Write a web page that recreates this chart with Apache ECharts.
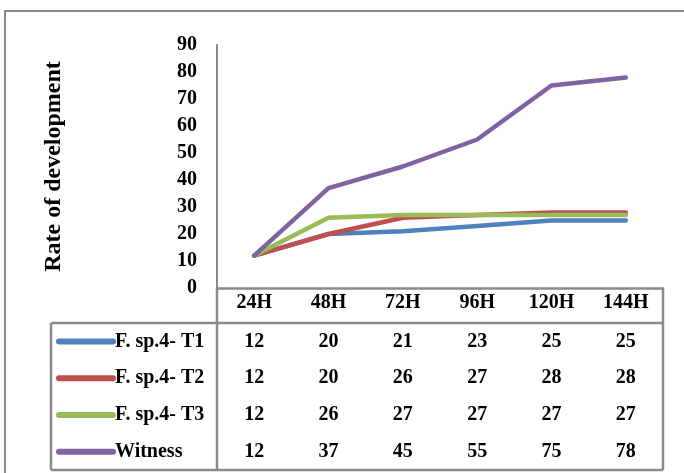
<!DOCTYPE html>
<html>
<head>
<meta charset="utf-8">
<script src="https://cdn.jsdelivr.net/npm/echarts@6/dist/echarts.min.js"></script>
<style>
  html, body { margin: 0; padding: 0; background: #fff; }
  #chart { width: 684px; height: 473px; }
</style>
</head>
<body>
<div id="chart"></div>
<script>
// Sampling times (category axis / table header)
const hours = ['24H', '48H', '72H', '96H', '120H', '144H'];
// Series names shown in the table legend column
const seriesNames = ['F. sp.4- T1', 'F. sp.4- T2', 'F. sp.4- T3', 'Witness'];
// Rate of development per treatment
const t1Values = [12, 20, 21, 23, 25, 25];
const t2Values = [12, 20, 26, 27, 28, 28];
const t3Values = [12, 26, 27, 27, 27, 27];
const witnessValues = [12, 37, 45, 55, 75, 78];
// Value axis ticks
const yMin = 0, yMax = 90, yStep = 10;

const seriesValues = [t1Values, t2Values, t3Values, witnessValues];
const colors = ['#4F81BD', '#C0504D', '#9BBB59', '#8064A2'];

const FONT = '"Liberation Serif", "Times New Roman", serif';
const GRAY = '#8a8a8a';
const TXT = 20;

// Layout of the plot and the data table underneath
const G = { left: 217, right: 663, top: 45, bottom: 288 };
const tableLeft = 51;
const headerBottom = 323;
const tableBottom = 470;
const rowH = (tableBottom - headerBottom) / seriesNames.length;

const chart = echarts.init(document.getElementById('chart'), null, { renderer: 'canvas' });

const option = {
  backgroundColor: '#fff',
  animation: false,
  textStyle: { fontFamily: FONT },
  grid: { left: G.left, right: 684 - G.right, top: G.top, bottom: 473 - G.bottom, containLabel: false },
  xAxis: {
    type: 'category',
    data: hours,
    boundaryGap: true,
    axisLine: { show: true, lineStyle: { color: GRAY, width: 2.5 } },
    axisTick: { show: false },
    axisLabel: { color: '#000', fontFamily: FONT, fontWeight: 'bold', fontSize: TXT, margin: 5 },
    splitLine: { show: false }
  },
  yAxis: {
    type: 'value',
    min: yMin, max: yMax, interval: yStep,
    name: 'Rate of development',
    nameLocation: 'middle',
    nameRotate: 90,
    nameGap: 151,
    nameTextStyle: { color: '#000', fontFamily: FONT, fontWeight: 'bold', fontSize: 24 },
    axisLine: { show: true, lineStyle: { color: GRAY, width: 2 } },
    axisTick: { show: false },
    axisLabel: { color: '#000', fontFamily: FONT, fontWeight: 'bold', fontSize: TXT, margin: 20 },
    splitLine: { show: false }
  },
  series: seriesNames.map((name, i) => ({
    name,
    type: 'line',
    data: seriesValues[i],
    symbol: 'none',
    smooth: false,
    lineStyle: { color: colors[i], width: 4.5, cap: 'round', join: 'round' },
    itemStyle: { color: colors[i] },
    z: 2 + i
  }))
};

chart.setOption(option);

// Data table below the plot: borders, legend swatches, names and values
function buildTable() {
  const g = [];
  const line = (x1, y1, x2, y2) => ({
    type: 'line', silent: true,
    shape: { x1, y1, x2, y2 },
    style: { stroke: GRAY, lineWidth: 2.5 }
  });
  // outer chart frame
  g.push({ type: 'rect', silent: true, shape: { x: 5, y: 11, width: 720, height: 520 },
           style: { fill: null, stroke: GRAY, lineWidth: 2 } });
  g.push(line(tableLeft, headerBottom, G.right, headerBottom));
  g.push(line(tableLeft, headerBottom, tableLeft, tableBottom));
  g.push(line(tableLeft, tableBottom, G.right, tableBottom));
  g.push(line(G.right, G.bottom, G.right, tableBottom));
  g.push(line(G.left, G.bottom, G.left, tableBottom));

  seriesNames.forEach((name, r) => {
    const cy = headerBottom + rowH * (r + 0.5);
    g.push({ type: 'line', silent: true,
             shape: { x1: 59, y1: cy, x2: 113, y2: cy },
             style: { stroke: colors[r], lineWidth: 6, lineCap: 'round' } });
    g.push({ type: 'text', silent: true, x: 115, y: cy,
             style: { text: name, fill: '#000', font: 'bold ' + TXT + 'px ' + FONT,
                      textAlign: 'left', textVerticalAlign: 'middle' } });
    seriesValues[r].forEach((v, c) => {
      const x = chart.convertToPixel({ xAxisIndex: 0 }, hours[c]);
      g.push({ type: 'text', silent: true, x: x, y: cy,
               style: { text: String(v), fill: '#000', font: 'bold ' + TXT + 'px ' + FONT,
                        textAlign: 'center', textVerticalAlign: 'middle' } });
    });
  });
  chart.setOption({ graphic: { elements: g } });
}
buildTable();
</script>
</body>
</html>
